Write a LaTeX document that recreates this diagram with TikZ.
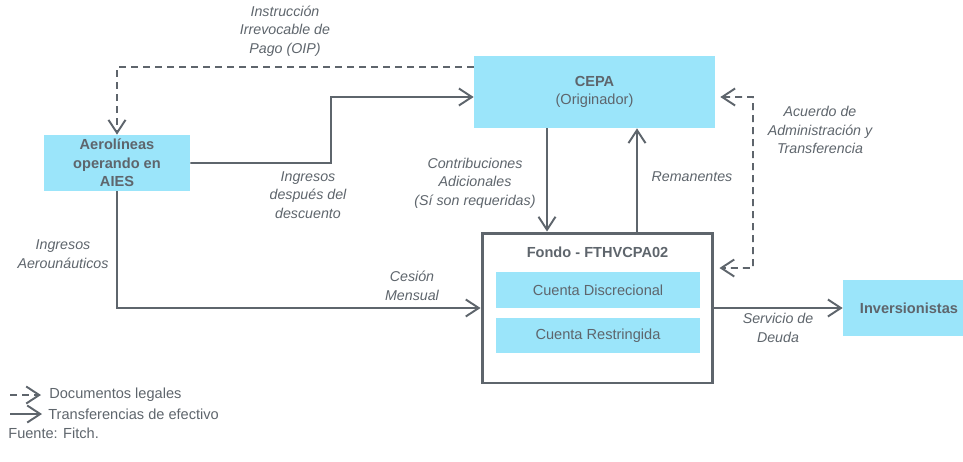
\documentclass[tikz,border=0pt]{standalone}
\usepackage{fontspec}
\setmainfont{Liberation Sans}
\usetikzlibrary{arrows.meta}
\definecolor{boxblue}{HTML}{9BE5FA}
\definecolor{ink}{HTML}{5E656C}

\begin{document}
\begin{tikzpicture}[x=0.02cm, y=-0.02cm,
    font=\fontsize{8.3}{10.5}\selectfont, text=ink,
    box/.style={fill=boxblue, inner sep=0pt, align=center},
    lbl/.style={font=\fontsize{8.1}{10.5}\selectfont\itshape, align=center},
    cash/.style={draw=ink, line width=1.1pt,
      -{Straight Barb[length=2.6mm,width=3.4mm]}},
    legal/.style={cash, dash pattern=on 1.4mm off 1mm}]
    \useasboundingbox (0,0) rectangle (963,461);
    \node[box, minimum width=4.82cm, minimum height=1.44cm] (cepa) at
    (594.5,92) {\textbf{CEPA}\\(Originador)}; \node[box, minimum
    width=2.92cm, minimum height=1.12cm, font=\fontsize{8.3}{10.5}\selectfont\bfseries]
    (aero) at (117,163) {Aerolíneas\\operando en\\AIES};
    \node[draw=ink, line width=1.7pt, minimum width=4.62cm, minimum
    height=3cm] (fondo) at (597.5,308) {}; \node[font=\fontsize{8.3}{10.5}\selectfont\bfseries]
    (titulo) at (fondo.north |- 0,252) {Fondo - FTHVCPA02};
    \node[box, minimum width=4.08cm, minimum height=0.72cm] (discr) at
    (598,290) {Cuenta Discrecional}; \node[box, minimum width=4.08cm,
    minimum height=0.7cm] (restr) at (598,335.5) {Cuenta Restringida};
    \node[box, minimum width=2.64cm, minimum height=1.12cm, font=\fontsize{8.3}{10.5}\selectfont\bfseries]
    (inv) at (909,308) {Inversionistas};
    % flujos
    \draw[legal] ([yshift=0.5cm]cepa.west) -| (aero.north);
    \draw[cash] (aero.east) -| (331,97) -- ([yshift=-0.1cm]cepa.west);
    \draw[cash] (aero.south) |- (fondo.west);
    \draw[cash] ([xshift=-0.95cm]cepa.south) -- ([xshift=-0.95cm]cepa.south |- fondo.north);
    \draw[cash] ([xshift=0.85cm]cepa.south |- fondo.north) -- ([xshift=0.85cm]cepa.south);
    \draw[legal, {Straight Barb[length=2.6mm,width=3.4mm]}-{Straight Barb[length=2.6mm,width=3.4mm]},
    shorten <=1mm, shorten >=1mm] ([yshift=-0.1cm]cepa.east) -| (753,268)
    -- ([yshift=0.8cm]fondo.east); \draw[cash] (fondo.east) -- (inv.west);
    % etiquetas
    \node[lbl] (oip) at (285,31) {Instrucción\\Irrevocable de\\Pago (OIP)};
    \node[lbl] (desc) at (308,195) {Ingresos\\después del\\descuento};
    \node[lbl] (contrib) at (475,183) {Contribuciones\\Adicionales\\(Sí son requeridas)};
    \node[lbl] (reman) at (692,177) {Remanentes};
    \node[lbl] (acuerdo) at (820,130) {Acuerdo de\\Administración y\\Transferencia};
    \node[lbl] (ingaero) at (63,254) {Ingresos\\Aerounáuticos};
    \node[lbl] (cesion) at (412,286) {Cesión\\Mensual};
    \node[lbl] (servicio) at (778,328) {Servicio de\\Deuda};
    % leyenda
    \node[anchor=west, inner sep=0pt] (doc) at (49,395) {Documentos legales};
    \node[anchor=west, inner sep=0pt] (transf) at (48,414) {Transferencias de efectivo};
    \node[anchor=west, inner sep=0pt] (fuente) at (8,433) {Fuente: Fitch.};
    \draw[legal] ([xshift=-0.78cm]doc.west) -- ([xshift=-0.16cm]doc.west);
    \draw[cash] ([xshift=-0.76cm]transf.west) -- ([xshift=-0.12cm]transf.west);
\end{tikzpicture}
\end{document}
